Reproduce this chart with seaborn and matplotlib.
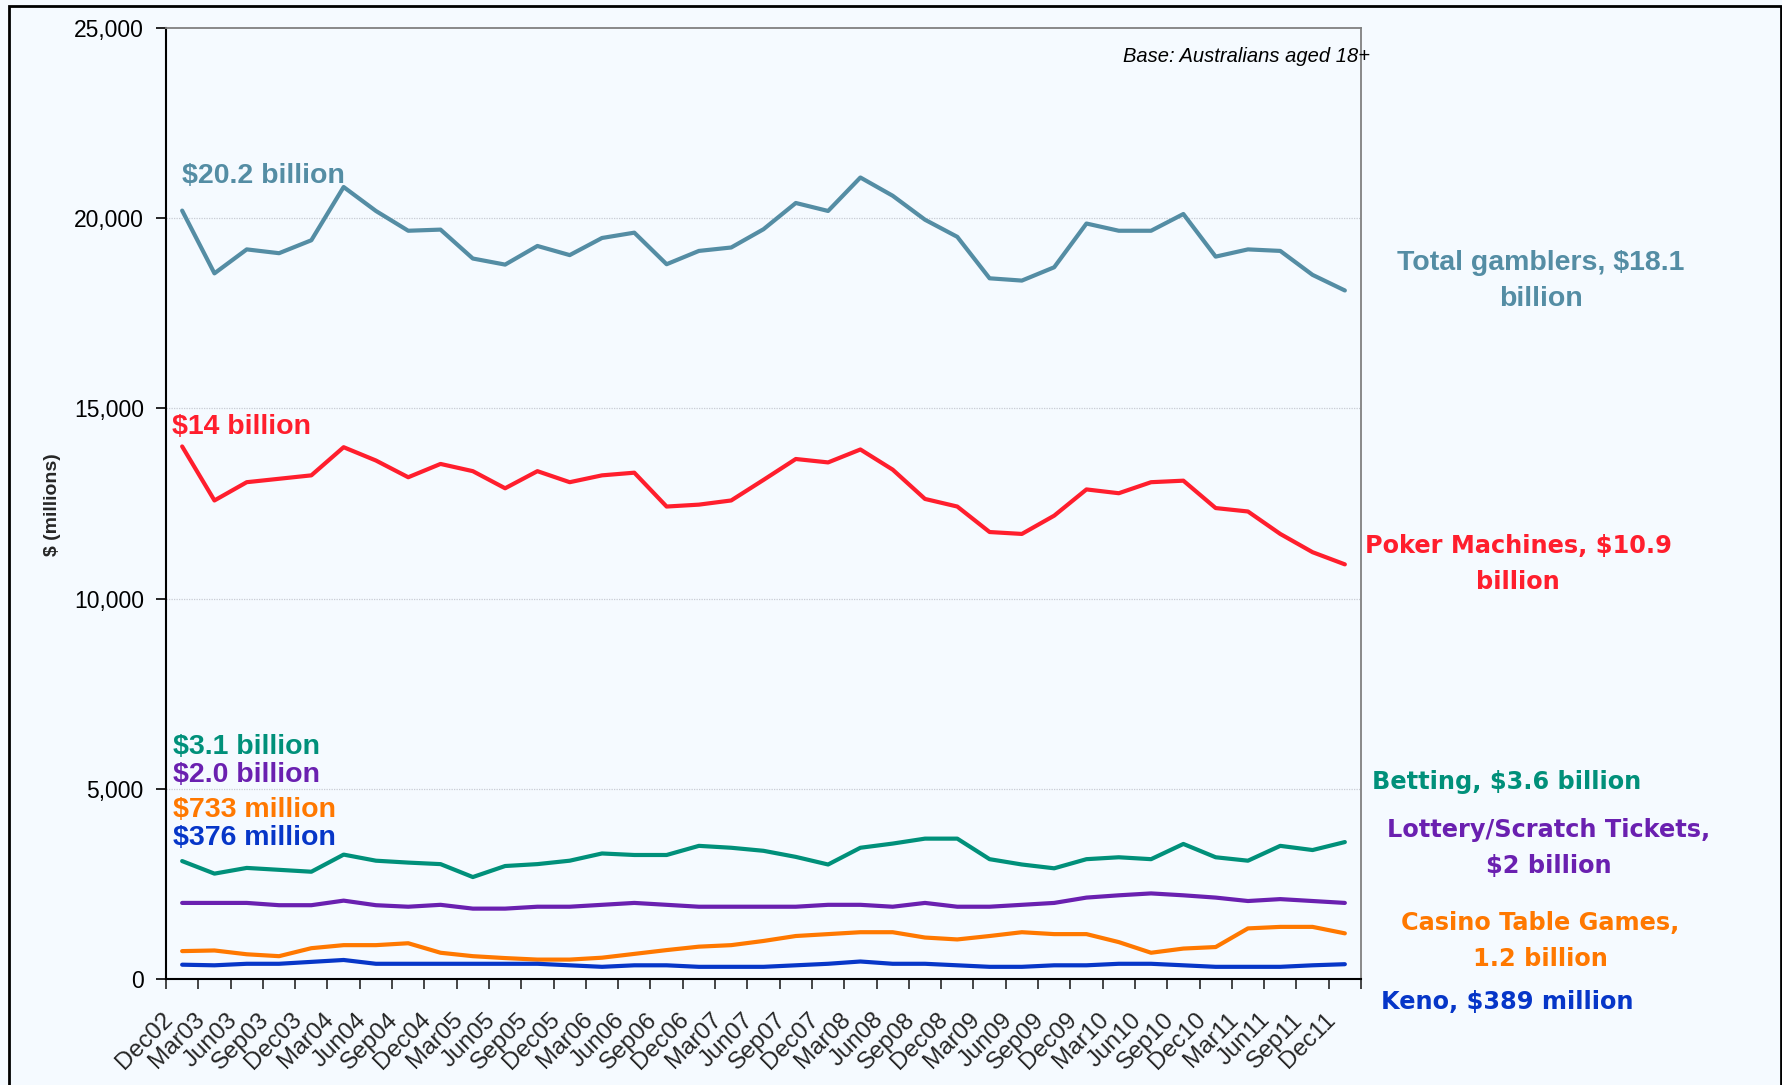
import matplotlib
matplotlib.use("Agg")
import matplotlib.pyplot as plt
import matplotlib.ticker as mticker
from matplotlib.patches import Rectangle
import matplotlib.transforms as mtransforms
import seaborn as sns
import pandas as pd

# Quarterly gambling expenditure, $ millions
quarters = ["Dec02", "Mar03", "Jun03", "Sep03", "Dec03", "Mar04", "Jun04", "Sep04",
            "Dec04", "Mar05", "Jun05", "Sep05", "Dec05", "Mar06", "Jun06", "Sep06",
            "Dec06", "Mar07", "Jun07", "Sep07", "Dec07", "Mar08", "Jun08", "Sep08",
            "Dec08", "Mar09", "Jun09", "Sep09", "Dec09", "Mar10", "Jun10", "Sep10",
            "Dec10", "Mar11", "Jun11", "Sep11", "Dec11"]

total = [20200, 18550, 19180, 19080, 19420, 20820, 20190, 19670, 19700, 18940,
         18780, 19270, 19030, 19480, 19620, 18790, 19140, 19230, 19710, 20400,
         20190, 21070, 20590, 19960, 19510, 18420, 18360, 18710, 19860, 19670,
         19670, 20110, 18990, 19180, 19140, 18510, 18100]
poker = [14000, 12580, 13060, 13150, 13240, 13980, 13630, 13190, 13540, 13350,
         12900, 13350, 13060, 13240, 13310, 12420, 12470, 12580, 13120, 13670,
         13580, 13920, 13390, 12620, 12420, 11750, 11700, 12180, 12870, 12770,
         13060, 13100, 12380, 12290, 11700, 11220, 10900]
betting = [3100, 2770, 2920, 2870, 2820, 3270, 3110, 3060, 3020, 2680,
           2970, 3020, 3110, 3300, 3260, 3260, 3500, 3450, 3370, 3210,
           3010, 3450, 3560, 3690, 3690, 3150, 3010, 2910, 3150, 3200,
           3150, 3550, 3200, 3110, 3500, 3390, 3600]
lottery = [2000, 2000, 2000, 1940, 1940, 2060, 1940, 1900, 1950, 1850,
           1850, 1900, 1900, 1950, 2000, 1950, 1900, 1900, 1900, 1900,
           1950, 1950, 1900, 2000, 1900, 1900, 1950, 2000, 2140, 2200,
           2250, 2200, 2140, 2050, 2100, 2050, 2000]
casino = [733, 750, 650, 600, 810, 890, 890, 940, 690, 600,
          550, 510, 510, 560, 660, 760, 850, 890, 1000, 1130,
          1180, 1230, 1230, 1090, 1040, 1130, 1230, 1180, 1180, 970,
          690, 800, 840, 1330, 1370, 1370, 1200]
keno = [376, 360, 400, 400, 450, 500, 400, 400, 400, 400,
        400, 400, 360, 320, 360, 360, 320, 320, 320, 360,
        400, 460, 400, 400, 360, 320, 320, 360, 360, 400,
        400, 360, 320, 320, 320, 360, 389]

series_names = ["Total gamblers", "Poker Machines", "Betting",
                "Lottery/Scratch Tickets", "Casino Table Games", "Keno"]
series_values = [total, poker, betting, lottery, casino, keno]
series_colors = ["#548DA4", "#FF1E2D", "#00907A", "#6A20B0", "#FF7800", "#0636C8"]

start_labels = ["$20.2 billion", "$14 billion", "$3.1 billion", "$2.0 billion",
                "$733 million", "$376 million"]
end_labels = ["Total gamblers, $18.1\nbillion", "Poker Machines, $10.9\nbillion",
              "Betting, $3.6 billion", "Lottery/Scratch Tickets,\n$2 billion",
              "Casino Table Games,\n1.2 billion", "Keno, $389 million"]

rows = []
for name, vals in zip(series_names, series_values):
    for i, v in enumerate(vals):
        rows.append({"idx": i, "value": v, "series": name})
df = pd.DataFrame(rows)

sns.set_style("white")
plt.rcParams["font.family"] = ["Liberation Sans", "DejaVu Sans"]

BG = "#F5FAFF"
W, H = 1783, 1085
fig = plt.figure(figsize=(W / 100, H / 100), dpi=100, facecolor=BG)
ax = fig.add_axes([166 / W, 1 - 979 / H, (1361 - 166) / W, (979 - 28) / H])
ax.set_facecolor(BG)

sns.lineplot(data=df, x="idx", y="value", hue="series", hue_order=series_names,
             palette=dict(zip(series_names, series_colors)), linewidth=3.0,
             legend=False, ax=ax, sort=False)

n = len(quarters)
ax.set_xlim(-0.5, n - 0.5)
ax.set_ylim(0, 25000)
ax.set_xlabel("")
ax.set_ylabel("")

ax.set_yticks(range(0, 25001, 5000))
ax.yaxis.set_major_formatter(mticker.FuncFormatter(lambda v, p: f"{int(v):,}"))
ax.tick_params(axis="y", direction="out", length=7, width=1.2, pad=9,
               labelsize=16.5, colors="black", left=True)

ax.set_xticks(range(n))
ax.set_xticklabels(quarters, rotation=45, ha="right", va="center",
                   rotation_mode="anchor", fontsize=17.5)
ax.set_xticks([i - 0.5 for i in range(n + 1)], minor=True)
ax.tick_params(axis="x", which="major", length=0, pad=27)
ax.tick_params(axis="x", which="minor", direction="out", length=7, width=1.2,
               bottom=True)
shift = mtransforms.ScaledTranslation(-13 / 100, 0, fig.dpi_scale_trans)
for lbl in ax.get_xticklabels():
    lbl.set_transform(lbl.get_transform() + shift)

for y in range(5000, 25000, 5000):
    ax.axhline(y, color="#C8CCD4", linewidth=0.9, linestyle=(0, (1, 1)), zorder=0)

for side in ["top", "right"]:
    ax.spines[side].set_color("#808080")
    ax.spines[side].set_linewidth(1.3)
for side in ["left", "bottom"]:
    ax.spines[side].set_color("black")
    ax.spines[side].set_linewidth(1.5)

def fx(px):
    return px / W

def fy(py):
    return 1 - py / H

# y-axis title
fig.text(fx(53), fy(505), "$ (millions)", rotation=90, fontsize=14,
         fontweight="bold", ha="center", va="center")

# labels at the start of each line
start_pos = [(182, 176), (172, 427), (173, 747), (173, 775), (173, 810), (173, 838)]
for txt, (px, py), col in zip(start_labels, start_pos, series_colors):
    fig.text(fx(px), fy(py), txt, color=col, fontsize=20.5, fontweight="bold",
             ha="left", va="center")

# labels at the end of each line
end_pos = [(1541, 281), (1518, 564), (1507, 782), (1549, 848), (1540, 941), (1507, 1002)]
end_sizes = [20.5, 17.3, 17.3, 17.3, 17.3, 17.3]
end_fonts = [["Liberation Sans"], ["DejaVu Sans"], ["DejaVu Sans"], ["DejaVu Sans"],
             ["DejaVu Sans"], ["DejaVu Sans"]]
end_spacing = [1.45, 1.65, 1.65, 1.65, 1.65, 1.65]
for txt, (px, py), col, fs, fam, ls in zip(end_labels, end_pos, series_colors,
                                           end_sizes, end_fonts, end_spacing):
    fig.text(fx(px), fy(py), txt, color=col, fontsize=fs, fontweight="bold",
             family=fam, ha="center", va="center", multialignment="center",
             linespacing=ls)

fig.text(fx(1370), fy(56), "Base: Australians aged 18+", fontsize=14.5,
         fontstyle="italic", ha="right", va="center", color="black")

# outer frame
fig.patches.append(Rectangle((fx(9), -0.02), fx(1781) - fx(9), fy(6) + 0.02,
                             transform=fig.transFigure, fill=False,
                             edgecolor="black", linewidth=2, clip_on=False))

fig.savefig("out.png", dpi=100, facecolor=BG)
